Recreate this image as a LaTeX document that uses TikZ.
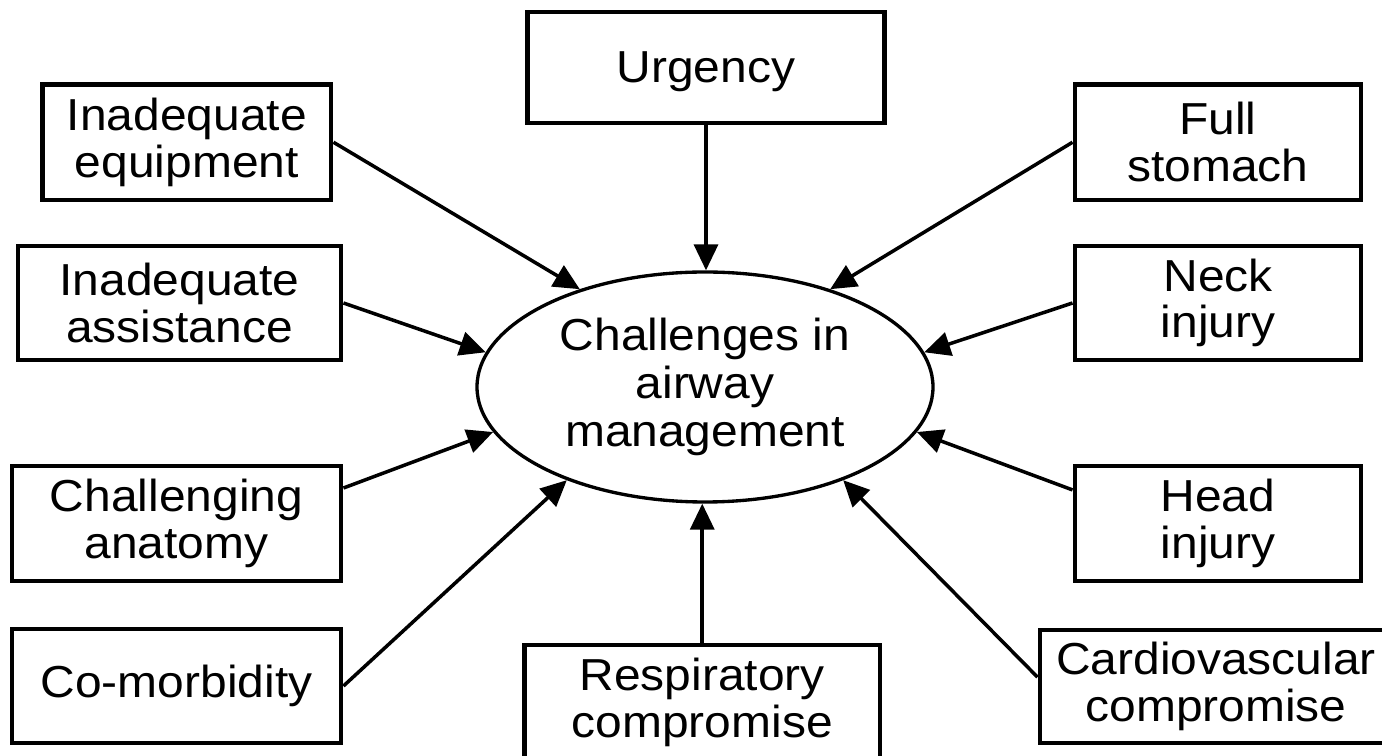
\documentclass[tikz,border=0pt]{standalone}
\usepackage{fontspec}
\setmainfont[FakeStretch=1.07]{Liberation Sans}
\usepackage{tikz}
\usetikzlibrary{shapes.geometric}
\usetikzlibrary{arrows.meta}

\begin{document}
\begin{tikzpicture}[
    box/.style={shape=rectangle, draw, line width=2.8pt, align=center, inner sep=0pt, font=\fontsize{25.5}{26.6}\selectfont},
    hub/.style={shape=ellipse, draw, line width=1.9pt, align=center, inner sep=0pt, font=\fontsize{25.5}{27.4}\selectfont},
    feed/.style={-{Triangle[length=0.52cm, width=0.48cm]}, line width=2pt}
  ]
    \useasboundingbox (0, 0) rectangle (27.64, 15.12);
    % Ellipse and boxes:
    \node[hub, minimum width=9.12cm, minimum height=4.6cm](N0) at (14.1, 7.38){Challenges in\\airway\\management};
    \node[box, minimum width=7.14cm, minimum height=2.22cm, text depth=0pt](N1) at (14.12, 13.77){Urgency};
    \node[box, minimum width=5.77cm, minimum height=2.31cm](N2) at (3.735, 12.275){Inadequate\\equipment};
    \node[box, minimum width=5.72cm, minimum height=2.31cm](N3) at (24.36, 12.275){Full\\stomach};
    \node[box, minimum width=6.46cm, minimum height=2.28cm](N4) at (3.59, 9.06){Inadequate\\assistance};
    \node[box, minimum width=5.72cm, minimum height=2.28cm](N5) at (24.36, 9.06){Neck\\injury};
    \node[box, minimum width=6.58cm, minimum height=2.3cm](N6) at (3.53, 4.65){Challenging\\anatomy};
    \node[box, minimum width=5.72cm, minimum height=2.3cm](N7) at (24.36, 4.65){Head\\injury};
    \node[box, minimum width=6.58cm, minimum height=2.28cm](N8) at (3.53, 1.40){Co-morbidity};
    \node[box, minimum width=7.11cm, minimum height=2.3cm](N9) at (14.045, 1.07){Respiratory\\compromise};
    \node[box, minimum width=7.04cm, minimum height=2.26cm](N10) at (24.32, 1.39){Cardiovascular\\compromise};
    % Arrows into the ellipse:
    \draw[feed] (N1.south) -- (N1.south |- N0.north);
    \draw[feed] (N2.east) -- (N0.142);
    \draw[feed] (N3.west) -- (N0.38);
    \draw[feed] (N4.east) -- (N0.171);
    \draw[feed] (N5.west) -- (N0.9);
    \draw[feed] (N6.12) -- (N0.192);
    \draw[feed] (N7.167) -- (N0.348);
    \draw[feed] (N8.east) -- (N0.214);
    \draw[feed] (N9.north) -- (N9.north |- N0.south);
    \draw[feed] (N10.177) -- (N0.326);
\end{tikzpicture}
\end{document}
